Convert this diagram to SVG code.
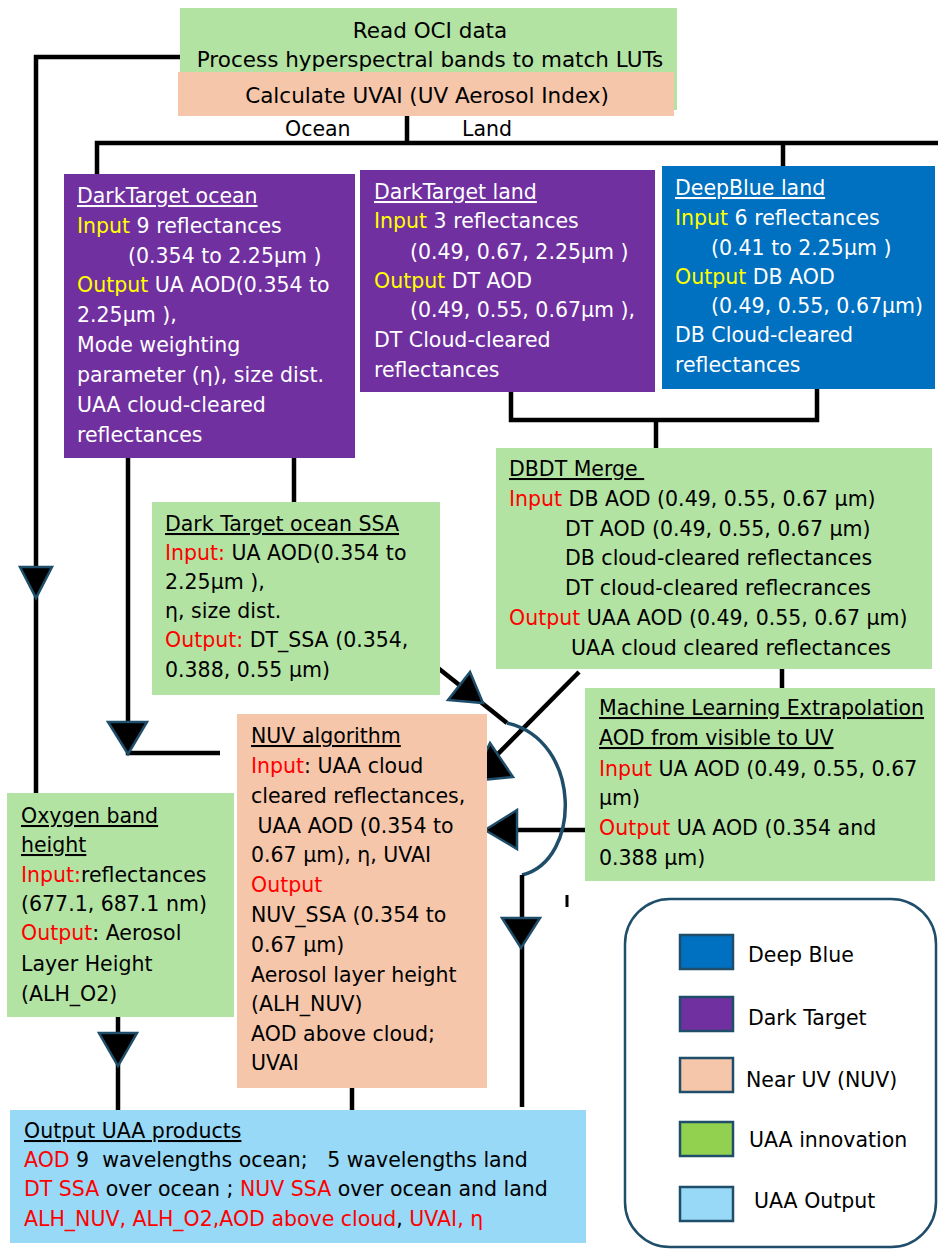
<svg xmlns="http://www.w3.org/2000/svg" width="938" height="1249" viewBox="0 0 938 1249">
<style>
text{font-family:"DejaVu Sans","Liberation Sans",sans-serif;font-size:20.5px;white-space:pre}
.t{font-size:21.5px}
.w{fill:#ffffff}.k{fill:#000000}
.y{fill:#ffff00}.r{fill:#ff0000}
.u{text-decoration:underline}
.g{fill:#b3e3a3}.p{fill:#f6c6aa}.v{fill:#7030a0}.b{fill:#0070c0}.lb{fill:#97d9f6}
.ln{fill:none;stroke:#000;stroke-width:4.5}
.ah{fill:#000;stroke:#1f4e6b;stroke-width:2.5;stroke-linejoin:miter}
.sw{stroke:#1f4e6b;stroke-width:2.5}
</style>
<rect width="938" height="1249" fill="#ffffff"/>

<g id="connectors">
<polyline class="ln" points="180,57 36,57 36,793"/>
<line class="ln" x1="407" y1="116" x2="407" y2="143"/>
<polyline class="ln" points="97,175 97,143 938,143"/>
<line class="ln" x1="783" y1="143" x2="783" y2="166"/>
<line class="ln" x1="294" y1="458" x2="294" y2="502"/>
<polyline class="ln" points="128,458 128,753 220,753"/>
<polyline class="ln" points="511,392 511,420 817,420 817,389"/>
<line class="ln" x1="656" y1="420" x2="656" y2="448"/>
<line class="ln" x1="782" y1="669" x2="782" y2="688"/>
<line class="ln" x1="579" y1="672" x2="480" y2="772"/>
<line class="ln" x1="587" y1="830" x2="500" y2="830"/>
<line class="ln" x1="433" y1="664" x2="507" y2="723"/>
<path d="M507,723 C582,740 582,860 522,875" fill="none" stroke="#1f4e6b" stroke-width="3.5"/>
<line class="ln" x1="522" y1="875" x2="522" y2="1107"/>
<line class="ln" x1="118" y1="1017" x2="118" y2="1110"/>
<line class="ln" x1="352" y1="1075" x2="352" y2="1110"/>
<line x1="567" y1="895" x2="567" y2="907" stroke="#000" stroke-width="3"/>
<polygon class="ah" points="20,567 52,567 36,598"/>
<polygon class="ah" points="108,722 147,722 128,754"/>
<polygon class="ah" points="99,1033 137,1033 118,1066"/>
<polygon class="ah" points="502,918 540,918 521,948"/>
<polygon class="ah" points="470,672 448,700 483,703"/>
<polygon class="ah" points="490,743 472,781 513,777"/>
<polygon class="ah" points="485,830 517,810 517,849"/>
</g>

<g id="read-oci">
<rect class="g" x="180" y="8" width="497" height="102"/>
<rect class="p" x="178" y="72" width="496" height="44"/>
<text class="k t" x="430" y="38" text-anchor="middle">Read OCI data</text>
<text class="k t" x="430" y="67" text-anchor="middle">Process hyperspectral bands to match LUTs</text>
<text class="k t" x="427" y="103" text-anchor="middle">Calculate UVAI (UV Aerosol Index)</text>
</g>

<g id="branch-labels">
<text class="k" x="285" y="136">Ocean</text>
<text class="k" x="462" y="136">Land</text>
</g>

<g id="dt-ocean">
<rect class="v" x="64" y="174" width="291" height="284"/>
<text class="w u" x="77" y="203">DarkTarget ocean</text>
<text class="w" x="77" y="233"><tspan class="y">Input</tspan> 9 reflectances</text>
<text class="w" x="128" y="263">(0.354 to 2.25µm )</text>
<text class="w" x="77" y="292"><tspan class="y">Output</tspan> UA AOD(0.354 to</text>
<text class="w" x="77" y="322">2.25µm ),</text>
<text class="w" x="77" y="352">Mode weighting</text>
<text class="w" x="77" y="382">parameter (η), size dist.</text>
<text class="w" x="77" y="412">UAA cloud-cleared</text>
<text class="w" x="77" y="442">reflectances</text>
</g>

<g id="dt-land">
<rect class="v" x="360" y="170" width="295" height="222"/>
<text class="w u" x="374" y="199">DarkTarget land</text>
<text class="w" x="374" y="228"><tspan class="y">Input</tspan> 3 reflectances</text>
<text class="w" x="410" y="259">(0.49, 0.67, 2.25µm )</text>
<text class="w" x="374" y="288"><tspan class="y">Output</tspan> DT AOD</text>
<text class="w" x="410" y="317">(0.49, 0.55, 0.67µm ),</text>
<text class="w" x="374" y="347">DT Cloud-cleared</text>
<text class="w" x="374" y="377">reflectances</text>
</g>

<g id="db-land">
<rect class="b" x="662" y="166" width="273" height="223"/>
<text class="w u" x="675" y="195">DeepBlue land</text>
<text class="w" x="675" y="225"><tspan class="y">Input</tspan> 6 reflectances</text>
<text class="w" x="711" y="255">(0.41 to 2.25µm )</text>
<text class="w" x="675" y="284"><tspan class="y">Output</tspan> DB AOD</text>
<text class="w" x="711" y="313">(0.49, 0.55, 0.67µm)</text>
<text class="w" x="675" y="342">DB Cloud-cleared</text>
<text class="w" x="675" y="372">reflectances</text>
</g>

<g id="dt-ocean-ssa">
<rect class="g" x="152" y="502" width="288" height="193"/>
<text class="k u" x="165" y="531">Dark Target ocean SSA</text>
<text class="k" x="165" y="560"><tspan class="r">Input:</tspan> UA AOD(0.354 to</text>
<text class="k" x="165" y="589">2.25µm ),</text>
<text class="k" x="165" y="618">η, size dist.</text>
<text class="k" x="165" y="647"><tspan class="r">Output:</tspan> DT_SSA (0.354,</text>
<text class="k" x="165" y="677">0.388, 0.55 µm)</text>
</g>

<g id="dbdt-merge">
<rect class="g" x="496" y="448" width="436" height="221"/>
<text class="k u" x="509" y="476">DBDT Merge </text>
<text class="k" x="509" y="506"><tspan class="r">Input</tspan> DB AOD (0.49, 0.55, 0.67 µm)</text>
<text class="k" x="565" y="536">DT AOD (0.49, 0.55, 0.67 µm)</text>
<text class="k" x="565" y="565">DB cloud-cleared reflectances</text>
<text class="k" x="565" y="595">DT cloud-cleared reflecrances</text>
<text class="k" x="509" y="625"><tspan class="r">Output</tspan> UAA AOD (0.49, 0.55, 0.67 µm)</text>
<text class="k" x="571" y="655">UAA cloud cleared reflectances</text>
</g>

<g id="ml-extrapolation">
<rect class="g" x="585" y="688" width="350" height="193"/>
<text class="k u" x="599" y="715">Machine Learning Extrapolation</text>
<text class="k u" x="599" y="745">AOD from visible to UV</text>
<text class="k" x="599" y="776"><tspan class="r">Input</tspan> UA AOD (0.49, 0.55, 0.67</text>
<text class="k" x="599" y="805">µm)</text>
<text class="k" x="599" y="835"><tspan class="r">Output</tspan> UA AOD (0.354 and</text>
<text class="k" x="599" y="865">0.388 µm)</text>
</g>

<g id="nuv-algorithm">
<rect class="p" x="237" y="714" width="250" height="374"/>
<text class="k u" x="251" y="743">NUV algorithm</text>
<text class="k" x="251" y="773"><tspan class="r">Input</tspan>: UAA cloud</text>
<text class="k" x="251" y="803">cleared reflectances,</text>
<text class="k" x="251" y="833"> UAA AOD (0.354 to</text>
<text class="k" x="251" y="862">0.67 µm), η, UVAI</text>
<text class="r" x="251" y="892">Output</text>
<text class="k" x="251" y="922">NUV_SSA (0.354 to</text>
<text class="k" x="251" y="952">0.67 µm)</text>
<text class="k" x="251" y="982">Aerosol layer height</text>
<text class="k" x="251" y="1011">(ALH_NUV)</text>
<text class="k" x="251" y="1041">AOD above cloud;</text>
<text class="k" x="251" y="1070">UVAI</text>
</g>

<g id="oxygen-band">
<rect class="g" x="7" y="793" width="227" height="224"/>
<text class="k u" x="21" y="823">Oxygen band</text>
<text class="k u" x="21" y="852">height</text>
<text class="k" x="21" y="882"><tspan class="r">Input:</tspan>reflectances</text>
<text class="k" x="21" y="911">(677.1, 687.1 nm)</text>
<text class="k" x="21" y="940"><tspan class="r">Output</tspan>: Aerosol</text>
<text class="k" x="21" y="971">Layer Height</text>
<text class="k" x="21" y="1001">(ALH_O2)</text>
</g>

<g id="output-products">
<rect class="lb" x="10" y="1110" width="576" height="133"/>
<text class="k u" x="24" y="1138">Output UAA products</text>
<text class="k" x="24" y="1167"><tspan class="r">AOD</tspan> 9  wavelengths ocean;   5 wavelengths land</text>
<text class="k" x="24" y="1196"><tspan class="r">DT SSA</tspan> over ocean ; <tspan class="r">NUV SSA</tspan> over ocean and land</text>
<text class="k" x="24" y="1226"><tspan class="r">ALH_NUV, ALH_O2,AOD above cloud</tspan>, <tspan class="r">UVAI, η</tspan></text>
</g>

<g id="legend">
<rect x="625" y="899" width="311" height="348" rx="45" fill="#ffffff" stroke="#1f4e6b" stroke-width="2.5"/>
<rect class="sw" x="680" y="935" width="53" height="34" fill="#0070c0"/>
<rect class="sw" x="680" y="997" width="53" height="34" fill="#7030a0"/>
<rect class="sw" x="680" y="1058" width="53" height="34" fill="#f6c6aa"/>
<rect class="sw" x="680" y="1122" width="53" height="34" fill="#92d050"/>
<rect class="sw" x="680" y="1187" width="53" height="34" fill="#97d9f6"/>
<text class="k" x="748" y="962">Deep Blue</text>
<text class="k" x="748" y="1025">Dark Target</text>
<text class="k" x="746" y="1087">Near UV (NUV)</text>
<text class="k" x="749" y="1147">UAA innovation</text>
<text class="k" x="754" y="1208">UAA Output</text>
</g>
</svg>
